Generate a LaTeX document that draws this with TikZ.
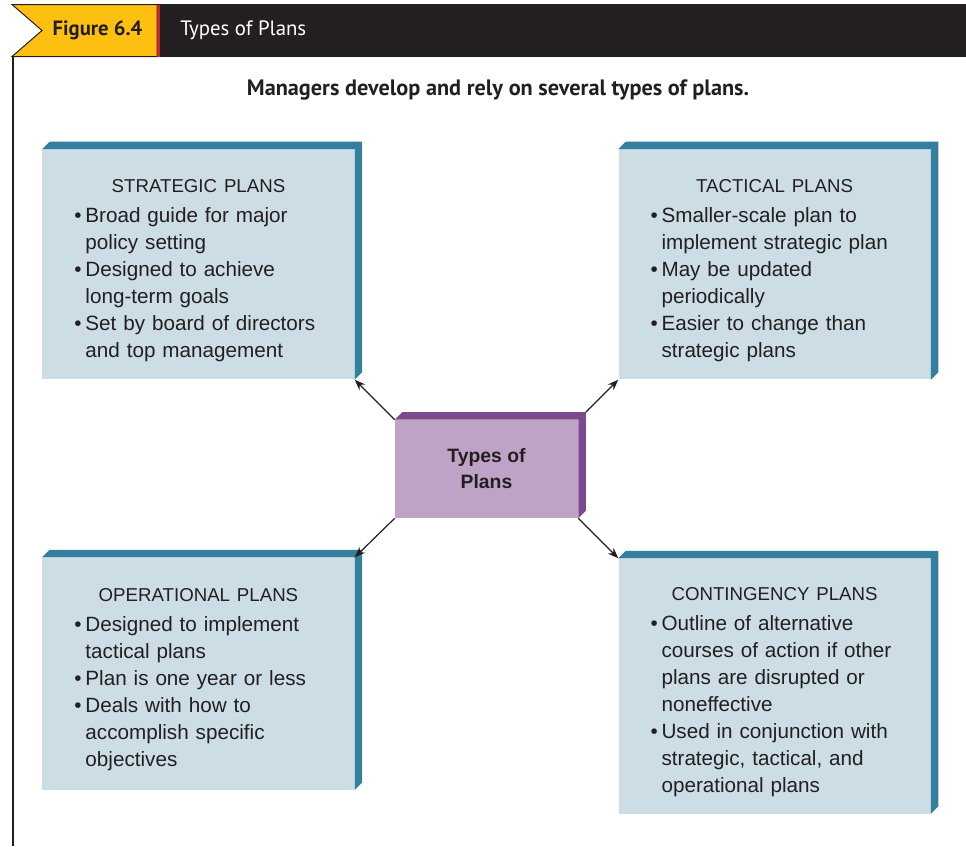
\documentclass[tikz,border=0pt]{standalone}
\usepackage{fontspec}
\setmainfont{Liberation Sans}
\newfontfamily\headfont{PT Sans}
\usetikzlibrary{positioning,arrows.meta}

\definecolor{ink}{HTML}{231F20}
\definecolor{planfill}{HTML}{CCDDE5}
\definecolor{planedge}{HTML}{347F9D}
\definecolor{hubfill}{HTML}{BEA3C6}
\definecolor{hubedge}{HTML}{7B4A8D}
\definecolor{flag}{HTML}{FDC010}
\definecolor{flagline}{HTML}{C4262E}

\newcommand{\bl}{\hspace*{24pt}\makebox[8.25pt][l]{\textbullet}}
\newcommand{\ct}{\hspace*{32.25pt}}
\newcommand{\plantitle}[1]{{\centering\fontsize{14pt}{20.25pt}\selectfont\rule{0pt}{19pt}#1\par}\vspace{1.75pt}}

\tikzset{
  plan/.style={fill=planfill, text=ink, text width=234pt, inner sep=0pt,
    minimum height=#1, align=left, font=\fontsize{15.5pt}{20.25pt}\selectfont},
  hub/.style={fill=hubfill, text=ink, minimum width=137.25pt, minimum height=73.5pt,
    inner sep=0pt, align=center, font=\bfseries\fontsize{14.5pt}{19.5pt}\selectfont},
  link/.style={-{Stealth[length=8pt,width=6pt]}, draw=ink, line width=0.9pt}
}

\begin{document}
\begin{tikzpicture}[x=0.75pt,y=-0.75pt]
  \useasboundingbox (0,0) rectangle (966,846);
  \fill[ink] (157,4) rectangle (966,57);
  \filldraw[fill=flag, draw=ink, line width=0.75pt]
    (12,4.5) -- (157,4.5) -- (157,56.5) -- (12,56.5) -- (42,30.5) -- cycle;
  \fill[flagline] (157,4.5) rectangle (160,56.5);
  \draw[ink, line width=1.5pt] (12.5,56.5) -- (12.5,846);
  \node[text=ink, font=\headfont\bfseries\fontsize{15.5pt}{17pt}\selectfont] (figno) at (97.5,30) {Figure 6.4};
  \node[text=white, font=\headfont\fontsize{15.6pt}{17pt}\selectfont, anchor=west, inner sep=0pt] (figtitle) at (180,30) {Types of Plans};
  \node[text=ink, font=\headfont\bfseries\fontsize{16.7pt}{18pt}\selectfont] (subtitle) at (498,90)
    {Managers develop and rely on several types of plans.};

  \node[hub] (types) at (486.5,469) {Types of\\Plans};
  \node[plan=172.5pt] (strat) [above left=30pt and 30pt of types] {%
    \plantitle{STRATEGIC PLANS}
    \bl Broad guide for major\\
    \ct policy setting\\
    \bl Designed to achieve\\
    \ct long-term goals\\
    \bl Set by board of directors\\
    \ct and top management};
  \node[plan=172.5pt] (tact) [above right=30pt and 30pt of types] {%
    \plantitle{TACTICAL PLANS}
    \bl Smaller-scale plan to\\
    \ct implement strategic plan\\
    \bl May be updated\\
    \ct periodically\\
    \bl Easier to change than\\
    \ct strategic plans};
  \node[plan=174pt] (oper) [below left=29.25pt and 30pt of types] {%
    \plantitle{OPERATIONAL PLANS}
    \bl Designed to implement\\
    \ct tactical plans\\
    \bl Plan is one year or less\\
    \bl Deals with how to\\
    \ct accomplish specific\\
    \ct objectives};
  \node[plan=191.25pt] (cont) [below right=30pt and 30pt of types] {%
    \plantitle{CONTINGENCY PLANS}
    \bl Outline of alternative\\
    \ct courses of action if other\\
    \ct plans are disrupted or\\
    \ct noneffective\\
    \bl Used in conjunction with\\
    \ct strategic, tactical, and\\
    \ct operational plans};

  \foreach \n/\c in {strat/planedge,tact/planedge,oper/planedge,cont/planedge,types/hubedge}
    \fill[\c] (\n.north west) -- ++(7.5,-7.5) -- ([shift={(7.5,-7.5)}]\n.north east)
      -- ([shift={(7.5,-7.5)}]\n.south east) -- (\n.south east) -- (\n.north east) -- cycle;

  \draw[link] (types.north west) -- (strat.south east);
  \draw[link] ([shift={(7.5,-7.5)}]types.north east) -- (tact.south west);
  \draw[link] (types.south west) -- (oper.north east);
  \draw[link] (types.south east) -- (cont.north west);
\end{tikzpicture}
\end{document}
